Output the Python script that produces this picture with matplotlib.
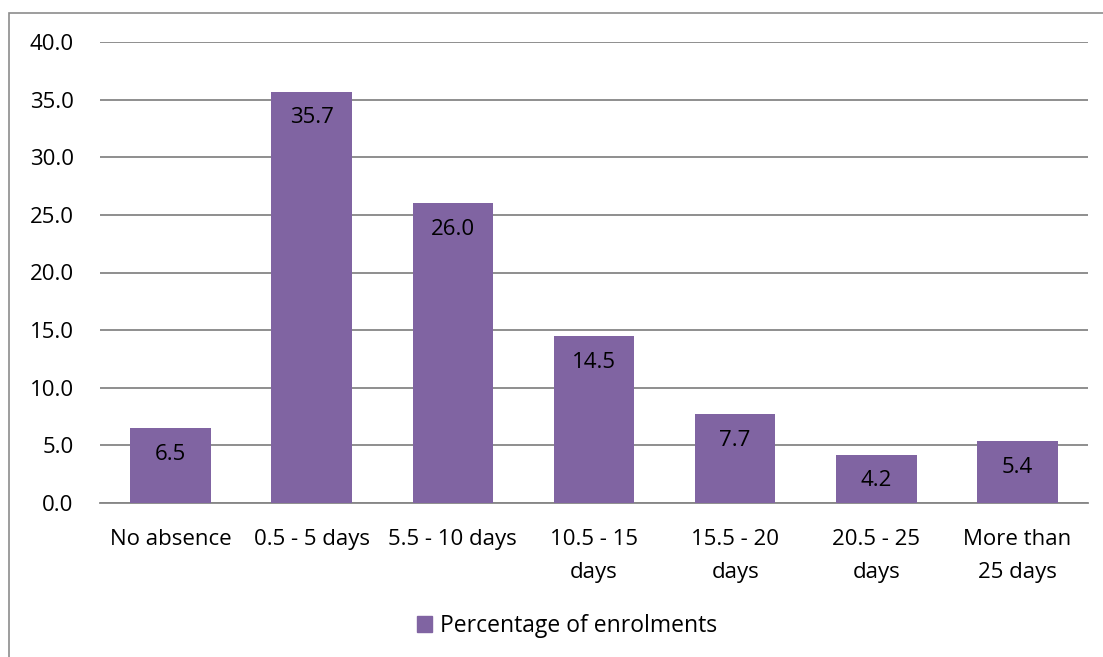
import matplotlib
matplotlib.use("Agg")
import matplotlib.pyplot as plt
from matplotlib.patches import Rectangle, Patch

categories = ["No absence", "0.5 - 5 days", "5.5 - 10 days", "10.5 - 15\ndays",
              "15.5 - 20\ndays", "20.5 - 25\ndays", "More than\n25 days"]
values = [6.5, 35.7, 26.0, 14.5, 7.7, 4.2, 5.4]
series_name = "Percentage of enrolments"
yticks = [0, 5, 10, 15, 20, 25, 30, 35, 40]

PURPLE = "#8064A2"
GRID = "#868686"
FS = 16
plt.rcParams["font.family"] = ["Open Sans", "DejaVu Sans"]

W, H = 1103, 657
fig = plt.figure(figsize=(W / 100, H / 100), dpi=100)
ax = fig.add_axes([100 / W, 1 - 503 / H, 988 / W, 461 / H])

x = range(len(categories))
ax.bar(x, values, width=0.57, color=PURPLE, zorder=3)
for i, v in enumerate(values):
    ax.annotate("%.1f" % v, (i, v), xytext=(0, -19), textcoords="offset points",
                ha="center", va="center", fontsize=FS, color="black", zorder=4)

ax.set_xlim(-0.5, len(categories) - 0.5)
ax.set_ylim(0, 40)
ax.set_yticks(yticks)
ax.set_yticklabels(["%.1f" % t for t in yticks])
ax.set_xticks(list(x))
ax.set_xticklabels(categories, linespacing=1.75)
ax.tick_params(axis="both", length=0, labelsize=FS, colors="black")
ax.tick_params(axis="y", pad=19)
ax.tick_params(axis="x", pad=19)
ax.grid(axis="y", color=GRID, linewidth=1.3, zorder=0)
for s in ("top", "right", "left"):
    ax.spines[s].set_visible(False)
ax.spines["bottom"].set_color(GRID)
ax.spines["bottom"].set_linewidth(1.3)

# chart frame (only left/top edges fall within the canvas)
fig.patches.append(Rectangle((9 / W, -0.1), 1.2, 1.1 - 13 / H, transform=fig.transFigure,
                             fill=False, edgecolor="#8c8c8c", linewidth=1.2))

fig.legend(handles=[Patch(color=PURPLE, label=series_name)], loc="center",
           bbox_to_anchor=(567 / W, 1 - 626 / H), frameon=False, fontsize=16.5,
           handlelength=0.65, handleheight=0.65, handletextpad=0.35)

fig.savefig("out.png", dpi=100)
